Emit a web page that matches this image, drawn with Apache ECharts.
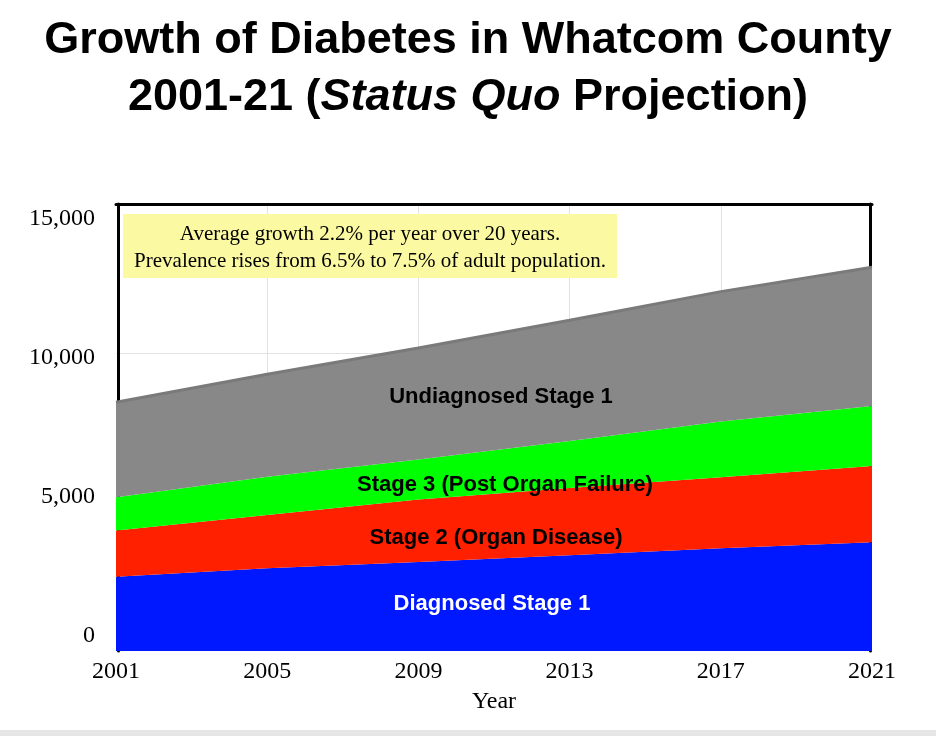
<!DOCTYPE html>
<html>
<head>
<meta charset="utf-8">
<script src="https://cdn.jsdelivr.net/npm/echarts@6/dist/echarts.min.js"></script>
<style>
html,body{margin:0;padding:0;background:#fff;}
#chart{width:936px;height:736px;}
</style>
</head>
<body>
<div id="chart"></div>
<script>
const years = ['2001', '2005', '2009', '2013', '2017', '2021'];
const diagnosedStage1 = [2490, 2780, 2990, 3210, 3450, 3650];
const stage2 = [1550, 1780, 2090, 2260, 2380, 2560];
const stage3 = [1120, 1290, 1350, 1580, 1870, 2010];
const undiagnosedStage1 = [3190, 3440, 3740, 4050, 4360, 4660];
const yTicks = [0, 5000, 10000, 15000];
const seriesNames = ['Diagnosed Stage 1', 'Stage 2 (Organ Disease)', 'Stage 3 (Post Organ Failure)', 'Undiagnosed Stage 1'];
const noteLines = ['Average growth 2.2% per year over 20 years.', 'Prevalence rises from 6.5% to 7.5% of adult population.'];

const chart = echarts.init(document.getElementById('chart'), null, {renderer: 'canvas'});
const SANS = '"Liberation Sans", Arial, sans-serif';
const SERIF = '"Liberation Serif", "Times New Roman", serif';

function areaSeries(name, data, color, line) {
  return {
    name: name, type: 'line', stack: 'total', data: data,
    xAxisIndex: 0, yAxisIndex: 0, z: 5,
    symbol: 'none', showSymbol: false,
    lineStyle: line ? {color: '#7a7a7a', width: 3} : {width: 0, color: color},
    areaStyle: {color: color, opacity: 1},
    itemStyle: {color: color},
    emphasis: {disabled: true}
  };
}

const option = {
  animation: false,
  backgroundColor: '#ffffff',
  title: {
    left: 'center', top: 12, padding: 0,
    text: '{b|Growth of Diabetes in Whatcom County}\n{b|2001-21 (}{i|Status Quo}{b| Projection)}',
    textStyle: {
      rich: {
        b: {fontFamily: SANS, fontWeight: 'bold', fontSize: 45, color: '#000', lineHeight: 57},
        i: {fontFamily: SANS, fontWeight: 'bold', fontStyle: 'italic', fontSize: 45, color: '#000', lineHeight: 57}
      }
    }
  },
  grid: {left: 116, right: 64, top: 204, bottom: 85},
  xAxis: [
    {
      type: 'category', data: years, boundaryGap: false, position: 'bottom', z: 0,
      name: 'Year', nameLocation: 'middle', nameGap: 39,
      nameTextStyle: {fontFamily: SERIF, fontSize: 24, color: '#000'},
      axisLine: {show: false, onZero: false}, axisTick: {show: false},
      axisLabel: {fontFamily: SERIF, fontSize: 24, color: '#000', margin: 9},
      splitLine: {show: true, showMinLine: false, showMaxLine: false, lineStyle: {color: '#e2e2e2', width: 1}}
    },
    {
      type: 'category', data: years, boundaryGap: false, position: 'top', z: 0,
      axisLine: {show: true, onZero: false, lineStyle: {color: '#000', width: 3}},
      axisTick: {show: false}, axisLabel: {show: false}, splitLine: {show: false}
    }
  ],
  yAxis: [
    {
      type: 'value', min: 0, max: 15000, interval: 5000, position: 'left', offset: -2, z: 0,
      axisLine: {show: true, onZero: false, lineStyle: {color: '#000', width: 3}},
      axisTick: {show: false}, axisLabel: {show: false},
      splitLine: {show: true, showMinLine: false, showMaxLine: false, lineStyle: {color: '#e2e2e2', width: 1}}
    },
    {
      type: 'value', min: -539, max: 15521, position: 'left', z: 0,
      axisLine: {show: false, onZero: false}, axisTick: {show: false}, splitLine: {show: false},
      axisLabel: {
        show: true, customValues: yTicks, margin: 21,
        fontFamily: SERIF, fontSize: 24, color: '#000',
        formatter: function (v) { return Number(v).toLocaleString('en-US'); }
      }
    },
    {
      type: 'value', min: 0, max: 15000, position: 'right', offset: -2, z: 0,
      axisLine: {show: true, onZero: false, lineStyle: {color: '#000', width: 3}},
      axisTick: {show: false}, axisLabel: {show: false}, splitLine: {show: false}
    }
  ],
  series: [
    areaSeries(seriesNames[0], diagnosedStage1, '#0018ff', false),
    areaSeries(seriesNames[1], stage2, '#ff2000', false),
    areaSeries(seriesNames[2], stage3, '#00ff00', false),
    areaSeries(seriesNames[3], undiagnosedStage1, '#888888', true)
  ],
  graphic: [
    {type: 'rect', z: 10, shape: {x: 123, y: 214, width: 494, height: 64}, style: {fill: '#fbf9a2'}},
    {type: 'text', z: 11, style: {text: noteLines[0], x: 370, y: 234, align: 'center', verticalAlign: 'middle', textAlign: 'center', textVerticalAlign: 'middle', font: '21px ' + SERIF, fill: '#000'}},
    {type: 'text', z: 11, style: {text: noteLines[1], x: 370, y: 261, align: 'center', verticalAlign: 'middle', textAlign: 'center', textVerticalAlign: 'middle', font: '21px ' + SERIF, fill: '#000'}},
    {type: 'text', z: 11, style: {text: seriesNames[3], x: 501, y: 397, align: 'center', verticalAlign: 'middle', textAlign: 'center', textVerticalAlign: 'middle', font: 'bold 22px ' + SANS, fill: '#000'}},
    {type: 'text', z: 11, style: {text: seriesNames[2], x: 505, y: 485, align: 'center', verticalAlign: 'middle', textAlign: 'center', textVerticalAlign: 'middle', font: 'bold 22px ' + SANS, fill: '#000'}},
    {type: 'text', z: 11, style: {text: seriesNames[1], x: 496, y: 538, align: 'center', verticalAlign: 'middle', textAlign: 'center', textVerticalAlign: 'middle', font: 'bold 22px ' + SANS, fill: '#000'}},
    {type: 'text', z: 11, style: {text: seriesNames[0], x: 492, y: 604, align: 'center', verticalAlign: 'middle', textAlign: 'center', textVerticalAlign: 'middle', font: 'bold 22px ' + SANS, fill: '#ffffff'}},
    {type: 'rect', z: 10, shape: {x: 0, y: 730, width: 936, height: 6}, style: {fill: '#e6e6e6'}}
  ]
};
chart.setOption(option);
</script>
</body>
</html>
